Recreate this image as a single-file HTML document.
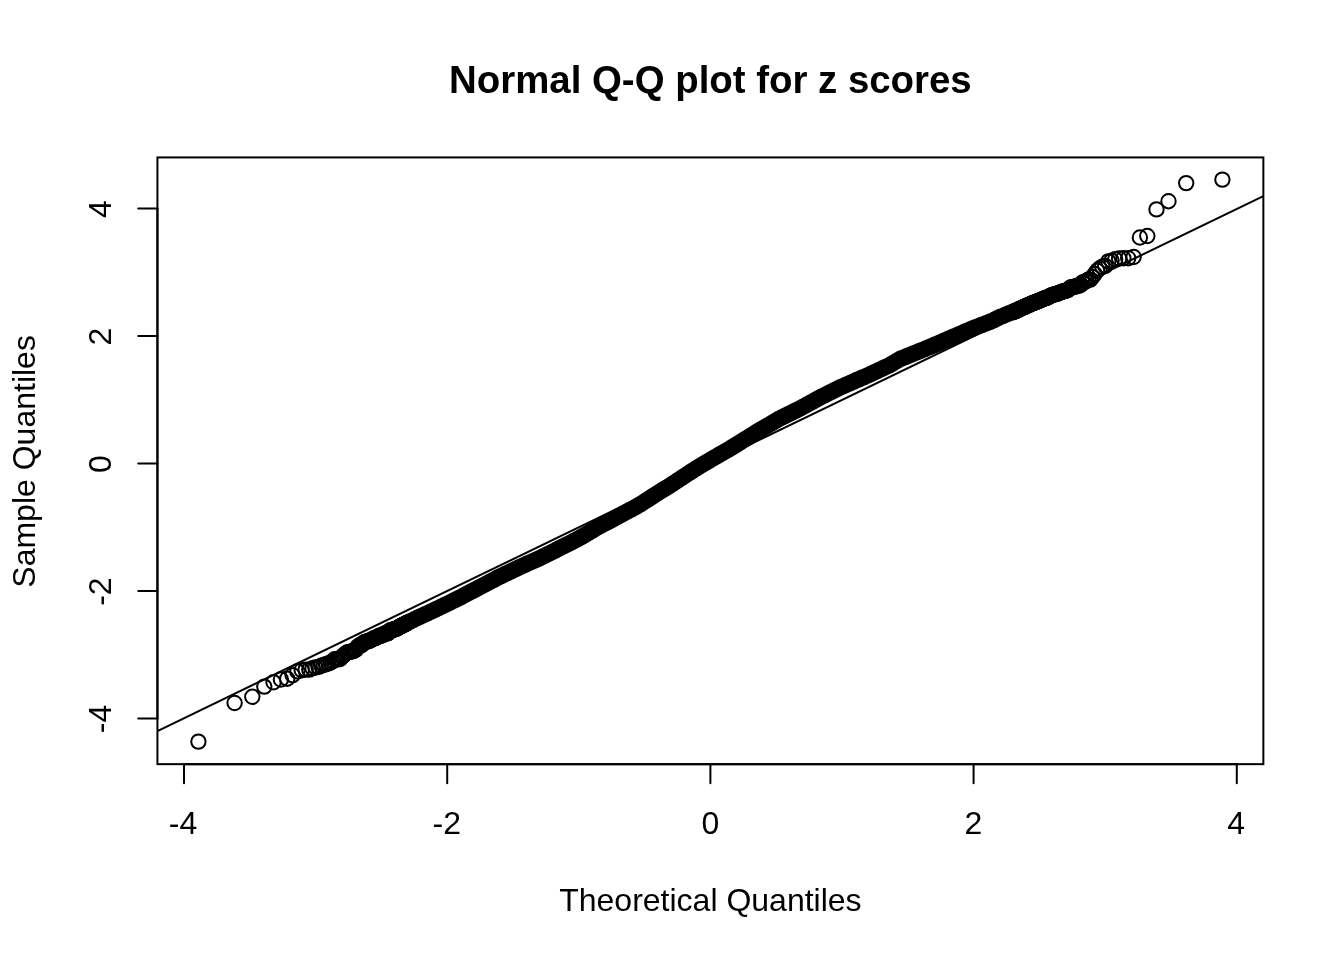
<!DOCTYPE html>
<html><head><meta charset="utf-8"><title>Normal Q-Q plot for z scores</title>
<style>html,body{margin:0;padding:0;background:#fff;}svg{display:block;filter:grayscale(1);}</style>
</head><body>
<svg width="1344" height="960" viewBox="0 0 1344 960"><rect width="1344" height="960" fill="#fff"/><defs><clipPath id="pr"><rect x="157.44" y="157.44" width="1105.92" height="606.72"/></clipPath></defs><g clip-path="url(#pr)"><path d="M401.5 625.8 L403.0 625.1 L405.0 624.1 L406.9 623.1 L408.8 622.1 L410.6 621.2 L412.3 620.4 L414.0 619.5 L415.6 618.7 L417.2 618.0 L418.8 617.2 L420.3 616.5 L422.2 615.6 L423.9 614.8 L425.7 614.0 L427.4 613.3 L429.0 612.5 L430.6 611.8 L432.2 611.1 L433.7 610.3 L435.5 609.5 L437.2 608.6 L438.9 607.8 L440.5 607.0 L442.1 606.3 L443.7 605.5 L445.2 604.7 L447.0 603.9 L448.7 603.1 L450.3 602.3 L451.9 601.5 L453.5 600.7 L455.0 599.9 L456.5 599.2 L458.2 598.4 L459.8 597.6 L461.4 596.8 L463.0 595.9 L464.5 595.1 L466.2 594.2 L467.8 593.4 L469.4 592.5 L471.0 591.7 L472.6 590.9 L474.1 590.1 L475.7 589.3 L477.3 588.4 L478.9 587.6 L480.4 586.8 L481.9 586.0 L483.5 585.2 L485.1 584.3 L486.7 583.5 L488.2 582.7 L489.8 581.8 L491.4 581.0 L493.0 580.2 L494.5 579.4 L496.0 578.6 L497.6 577.7 L499.2 576.9 L500.7 576.2 L502.2 575.4 L503.8 574.7 L505.4 573.9 L506.9 573.2 L508.5 572.5 L510.1 571.7 L511.6 571.0 L513.1 570.3 L514.7 569.5 L516.2 568.8 L517.8 568.0 L519.3 567.3 L520.8 566.6 L522.4 565.9 L523.9 565.2 L525.5 564.5 L527.0 563.8 L528.6 563.1 L530.1 562.4 L531.6 561.8 L533.2 561.1 L534.7 560.4 L536.2 559.7 L537.8 559.0 L539.4 558.3 L540.9 557.6 L542.4 556.8 L543.9 556.0 L545.5 555.3 L547.0 554.5 L548.5 553.7 L550.1 553.0 L551.6 552.2 L553.1 551.4 L554.7 550.7 L556.2 549.9 L557.8 549.1 L559.3 548.3 L560.8 547.6 L562.3 546.8 L563.9 546.1 L565.4 545.3 L566.9 544.6 L568.4 543.8 L570.0 543.0 L571.5 542.2 L573.0 541.4 L574.5 540.6 L576.1 539.9 L577.6 539.0 L579.1 538.3 L580.6 537.4 L582.2 536.5 L583.7 535.6 L585.2 534.7 L586.8 533.8 L588.3 532.9 L589.8 532.0 L591.4 531.0 L592.9 530.1 L594.4 529.2 L595.9 528.3 L597.4 527.4 L599.0 526.5 L600.5 525.7 L602.0 524.9 L603.5 524.1 L605.0 523.4 L606.6 522.6 L608.1 521.9 L609.6 521.1 L611.1 520.3 L612.7 519.4 L614.2 518.6 L615.7 517.8 L617.2 516.9 L618.7 516.1 L620.2 515.3 L621.8 514.4 L623.3 513.6 L624.8 512.7 L626.3 511.9 L627.9 511.1 L629.4 510.2 L630.9 509.6 L632.4 508.7 L634.0 507.9 L635.5 507.0 L637.0 506.2 L638.5 505.3 L640.0 504.5 L641.6 503.5 L643.1 502.5 L644.6 501.5 L646.1 500.5 L647.7 499.6 L649.2 498.6 L650.7 497.6 L652.2 496.6 L653.7 495.6 L655.2 494.7 L656.7 493.7 L658.3 492.7 L659.8 491.7 L661.3 490.8 L662.8 489.9 L664.3 489.0 L665.8 488.1 L667.4 487.2 L668.9 486.3 L670.4 485.3 L671.9 484.3 L673.5 483.3 L675.0 482.3 L676.5 481.3 L678.0 480.2 L679.5 479.2 L681.0 478.2 L682.6 477.2 L684.1 476.3 L685.6 475.3 L687.1 474.3 L688.6 473.3 L690.1 472.4 L691.6 471.4 L693.1 470.4 L694.7 469.4 L696.2 468.4 L697.7 467.5 L699.3 466.5 L700.8 465.5 L702.3 464.7 L703.8 463.8 L705.3 462.9 L706.9 462.0 L708.4 461.1 L709.9 460.2 L711.4 459.3 L712.9 458.4 L714.4 457.6 L716.0 456.7 L717.5 455.8 L719.0 454.9 L720.5 454.0 L722.0 453.1 L723.6 452.3 L725.1 451.4 L726.6 450.5 L728.2 449.7 L729.7 448.8 L731.2 447.9 L732.7 446.9 L734.2 446.0 L735.7 445.1 L737.2 444.1 L738.7 443.2 L740.3 442.2 L741.8 441.3 L743.3 440.3 L744.8 439.4 L746.4 438.5 L747.9 437.5 L749.4 436.6 L750.9 435.6 L752.4 434.7 L753.9 433.8 L755.5 432.8 L757.0 431.9 L758.5 430.9 L760.0 430.0 L761.5 429.1 L763.0 428.2 L764.6 427.3 L766.1 426.5 L767.6 425.6 L769.1 424.7 L770.6 423.8 L772.2 422.9 L773.7 422.0 L775.2 421.1 L776.7 420.2 L778.2 419.3 L779.7 418.5 L781.3 417.7 L782.8 416.9 L784.3 416.2 L785.8 415.5 L787.3 414.7 L788.8 414.0 L790.3 413.2 L791.9 412.5 L793.4 411.7 L794.9 411.0 L796.4 410.3 L797.9 409.5 L799.5 408.8 L801.0 407.9 L802.5 407.1 L804.0 406.3 L805.6 405.4 L807.1 404.6 L808.6 403.8 L810.1 402.9 L811.6 402.1 L813.2 401.3 L814.7 400.4 L816.2 399.6 L817.7 398.7 L819.3 397.9 L820.8 397.1 L822.3 396.3 L823.8 395.6 L825.4 394.8 L826.9 394.1 L828.4 393.3 L829.9 392.5 L831.4 391.8 L833.0 391.0 L834.5 390.3 L836.0 389.5 L837.5 388.7 L839.0 388.0 L840.6 387.2 L842.1 386.6 L843.6 385.9 L845.2 385.2 L846.7 384.5 L848.2 383.9 L849.8 383.2 L851.3 382.5 L852.8 381.9 L854.4 381.2 L855.9 380.5 L857.4 379.8 L859.0 379.2 L860.5 378.5 L862.0 377.8 L863.6 377.2 L865.1 376.5 L866.6 375.9 L868.1 375.2 L869.7 374.5 L871.2 373.8 L872.8 373.1 L874.3 372.3 L875.8 371.6 L877.4 370.9 L878.9 370.1 L880.4 369.4 L882.0 368.7 L883.5 368.0 L885.0 367.3 L886.6 366.6 L888.1 365.9 L889.7 365.1 L891.2 364.3 L892.7 363.4 L894.3 362.4 L895.8 361.5 L897.3 360.6 L898.9 359.7 L900.4 358.8 L902.0 358.2 L903.5 357.6 L905.1 357.0 L906.6 356.3 L908.2 355.7 L909.7 355.1 L911.3 354.5 L912.9 353.8 L914.4 353.2 L915.9 352.6 L917.5 352.0 L919.1 351.3 L920.7 350.7 L922.2 350.1 L923.8 349.4 L925.4 348.7 L926.9 348.1 L928.5 347.4 L930.0 346.8 L931.7 346.1 L933.2 345.5 L934.7 344.8 L936.3 344.2 L937.9 343.5 L939.5 342.8 L941.0 342.1 L942.6 341.4 L944.1 340.7 L945.8 340.0 L947.4 339.3 L948.9 338.6 L950.5 337.9 L952.1 337.2 L953.7 336.6 L955.3 335.9 L956.9 335.2 L958.4 334.6 L960.0 333.9 L961.6 333.2 L963.2 332.5 L964.9 331.7 L966.4 331.1 L968.0 330.4 L969.6 329.7 L971.2 329.0 L972.9 328.4 L974.6 327.7 L976.1 327.1 L977.6 326.5 L979.2 325.9 L980.8 325.3 L982.5 324.7 L984.2 324.0 L985.9 323.3 L987.7 322.7 L989.2 322.1 L990.8 321.5 L992.4 320.8 L994.1 320.0 L995.8 319.1 L997.6 318.2 L999.4 317.3 L1001.2 316.5 L1002.8 316.0 L1004.4 315.3 L1006.0 314.6 L1007.6 313.9 L1009.4 313.2 L1011.1 312.7 L1013.0 312.0 L1014.8 311.3 L1016.8 310.5 L1018.3 309.7 L1019.3 309.2" fill="none" stroke="#000" stroke-width="16.4" stroke-linecap="round" stroke-linejoin="round"/><g fill="none" stroke="#000" stroke-width="2"><circle cx="198.4" cy="741.6" r="7.2"/><circle cx="234.6" cy="703.0" r="7.2"/><circle cx="252.3" cy="696.8" r="7.2"/><circle cx="264.3" cy="686.6" r="7.2"/><circle cx="273.5" cy="682.3" r="7.2"/><circle cx="280.9" cy="679.5" r="7.2"/><circle cx="287.2" cy="678.7" r="7.2"/><circle cx="292.6" cy="675.2" r="7.2"/><circle cx="297.4" cy="671.4" r="7.2"/><circle cx="301.7" cy="670.2" r="7.2"/><circle cx="305.6" cy="669.6" r="7.2"/><circle cx="309.2" cy="669.6" r="7.2"/><circle cx="312.5" cy="668.3" r="7.2"/><circle cx="315.6" cy="667.5" r="7.2"/><circle cx="318.5" cy="666.9" r="7.2"/><circle cx="321.2" cy="665.7" r="7.2"/><circle cx="323.7" cy="664.9" r="7.2"/><circle cx="326.1" cy="664.1" r="7.2"/><circle cx="328.4" cy="663.4" r="7.2"/><circle cx="330.6" cy="662.5" r="7.2"/><circle cx="332.7" cy="661.2" r="7.2"/><circle cx="334.7" cy="659.2" r="7.2"/><circle cx="336.6" cy="659.2" r="7.2"/><circle cx="338.4" cy="659.2" r="7.2"/><circle cx="340.1" cy="659.0" r="7.2"/><circle cx="341.8" cy="656.9" r="7.2"/><circle cx="343.5" cy="655.4" r="7.2"/><circle cx="345.1" cy="654.0" r="7.2"/><circle cx="346.6" cy="652.7" r="7.2"/><circle cx="348.1" cy="652.2" r="7.2"/><circle cx="349.5" cy="651.9" r="7.2"/><circle cx="350.9" cy="651.6" r="7.2"/><circle cx="352.3" cy="651.1" r="7.2"/><circle cx="353.6" cy="651.0" r="7.2"/><circle cx="354.9" cy="650.3" r="7.2"/><circle cx="356.1" cy="649.4" r="7.2"/><circle cx="357.3" cy="647.0" r="7.2"/><circle cx="358.5" cy="646.1" r="7.2"/><circle cx="359.7" cy="645.3" r="7.2"/><circle cx="360.8" cy="645.3" r="7.2"/><circle cx="361.9" cy="645.0" r="7.2"/><circle cx="363.0" cy="643.1" r="7.2"/><circle cx="364.1" cy="642.5" r="7.2"/><circle cx="365.1" cy="642.0" r="7.2"/><circle cx="366.2" cy="641.7" r="7.2"/><circle cx="367.2" cy="641.5" r="7.2"/><circle cx="368.1" cy="641.3" r="7.2"/><circle cx="369.1" cy="640.9" r="7.2"/><circle cx="370.0" cy="640.5" r="7.2"/><circle cx="371.0" cy="640.0" r="7.2"/><circle cx="371.9" cy="639.5" r="7.2"/><circle cx="372.8" cy="639.0" r="7.2"/><circle cx="373.7" cy="638.5" r="7.2"/><circle cx="374.5" cy="638.3" r="7.2"/><circle cx="375.4" cy="638.0" r="7.2"/><circle cx="376.2" cy="637.8" r="7.2"/><circle cx="377.0" cy="637.3" r="7.2"/><circle cx="377.8" cy="636.8" r="7.2"/><circle cx="378.6" cy="636.2" r="7.2"/><circle cx="379.4" cy="635.8" r="7.2"/><circle cx="380.2" cy="635.7" r="7.2"/><circle cx="381.0" cy="635.6" r="7.2"/><circle cx="381.7" cy="635.5" r="7.2"/><circle cx="382.5" cy="635.1" r="7.2"/><circle cx="383.2" cy="634.6" r="7.2"/><circle cx="383.9" cy="634.1" r="7.2"/><circle cx="384.6" cy="633.7" r="7.2"/><circle cx="385.3" cy="633.5" r="7.2"/><circle cx="386.0" cy="633.4" r="7.2"/><circle cx="386.7" cy="633.4" r="7.2"/><circle cx="387.4" cy="633.4" r="7.2"/><circle cx="388.0" cy="633.1" r="7.2"/><circle cx="388.7" cy="632.1" r="7.2"/><circle cx="389.3" cy="631.1" r="7.2"/><circle cx="390.0" cy="630.5" r="7.2"/><circle cx="390.6" cy="630.5" r="7.2"/><circle cx="391.3" cy="630.5" r="7.2"/><circle cx="391.9" cy="630.4" r="7.2"/><circle cx="392.5" cy="630.1" r="7.2"/><circle cx="393.1" cy="629.8" r="7.2"/><circle cx="393.7" cy="629.5" r="7.2"/><circle cx="394.3" cy="629.3" r="7.2"/><circle cx="394.9" cy="629.2" r="7.2"/><circle cx="395.5" cy="629.0" r="7.2"/><circle cx="396.0" cy="628.8" r="7.2"/><circle cx="396.6" cy="628.6" r="7.2"/><circle cx="397.2" cy="628.3" r="7.2"/><circle cx="397.7" cy="628.1" r="7.2"/><circle cx="398.3" cy="627.6" r="7.2"/><circle cx="398.8" cy="627.3" r="7.2"/><circle cx="399.4" cy="627.0" r="7.2"/><circle cx="399.9" cy="626.7" r="7.2"/><circle cx="400.4" cy="626.4" r="7.2"/><circle cx="401.0" cy="626.1" r="7.2"/><circle cx="401.5" cy="625.8" r="7.2"/><circle cx="402.0" cy="625.6" r="7.2"/><circle cx="402.5" cy="625.3" r="7.2"/><circle cx="403.0" cy="625.1" r="7.2"/><circle cx="403.5" cy="624.8" r="7.2"/><circle cx="404.0" cy="624.6" r="7.2"/><circle cx="404.5" cy="624.3" r="7.2"/><circle cx="405.0" cy="624.1" r="7.2"/><circle cx="405.5" cy="623.8" r="7.2"/><circle cx="406.0" cy="623.6" r="7.2"/><circle cx="406.4" cy="623.3" r="7.2"/><circle cx="406.9" cy="623.1" r="7.2"/><circle cx="407.4" cy="622.8" r="7.2"/><circle cx="1013.4" cy="311.8" r="7.2"/><circle cx="1013.9" cy="311.6" r="7.2"/><circle cx="1014.4" cy="311.4" r="7.2"/><circle cx="1014.8" cy="311.3" r="7.2"/><circle cx="1015.3" cy="311.1" r="7.2"/><circle cx="1015.8" cy="310.9" r="7.2"/><circle cx="1016.3" cy="310.7" r="7.2"/><circle cx="1016.8" cy="310.5" r="7.2"/><circle cx="1017.3" cy="310.2" r="7.2"/><circle cx="1017.8" cy="309.9" r="7.2"/><circle cx="1018.3" cy="309.7" r="7.2"/><circle cx="1018.8" cy="309.4" r="7.2"/><circle cx="1019.3" cy="309.2" r="7.2"/><circle cx="1019.8" cy="308.9" r="7.2"/><circle cx="1020.4" cy="308.6" r="7.2"/><circle cx="1020.9" cy="308.4" r="7.2"/><circle cx="1021.4" cy="308.2" r="7.2"/><circle cx="1022.0" cy="308.0" r="7.2"/><circle cx="1022.5" cy="307.8" r="7.2"/><circle cx="1023.1" cy="307.5" r="7.2"/><circle cx="1023.6" cy="307.3" r="7.2"/><circle cx="1024.2" cy="307.1" r="7.2"/><circle cx="1024.8" cy="306.8" r="7.2"/><circle cx="1025.3" cy="306.6" r="7.2"/><circle cx="1025.9" cy="306.3" r="7.2"/><circle cx="1026.5" cy="306.0" r="7.2"/><circle cx="1027.1" cy="305.8" r="7.2"/><circle cx="1027.7" cy="305.5" r="7.2"/><circle cx="1028.3" cy="305.2" r="7.2"/><circle cx="1028.9" cy="304.9" r="7.2"/><circle cx="1029.5" cy="304.6" r="7.2"/><circle cx="1030.2" cy="304.3" r="7.2"/><circle cx="1030.8" cy="304.0" r="7.2"/><circle cx="1031.5" cy="303.7" r="7.2"/><circle cx="1032.1" cy="303.4" r="7.2"/><circle cx="1032.8" cy="303.2" r="7.2"/><circle cx="1033.4" cy="302.9" r="7.2"/><circle cx="1034.1" cy="302.7" r="7.2"/><circle cx="1034.8" cy="302.4" r="7.2"/><circle cx="1035.5" cy="302.2" r="7.2"/><circle cx="1036.2" cy="301.9" r="7.2"/><circle cx="1036.9" cy="301.6" r="7.2"/><circle cx="1037.6" cy="301.3" r="7.2"/><circle cx="1038.3" cy="301.1" r="7.2"/><circle cx="1039.1" cy="300.8" r="7.2"/><circle cx="1039.8" cy="300.5" r="7.2"/><circle cx="1040.6" cy="300.1" r="7.2"/><circle cx="1041.4" cy="299.8" r="7.2"/><circle cx="1042.2" cy="299.5" r="7.2"/><circle cx="1043.0" cy="299.1" r="7.2"/><circle cx="1043.8" cy="298.8" r="7.2"/><circle cx="1044.6" cy="298.5" r="7.2"/><circle cx="1045.4" cy="298.2" r="7.2"/><circle cx="1046.3" cy="297.9" r="7.2"/><circle cx="1047.1" cy="297.6" r="7.2"/><circle cx="1048.0" cy="297.2" r="7.2"/><circle cx="1048.9" cy="296.6" r="7.2"/><circle cx="1049.8" cy="296.1" r="7.2"/><circle cx="1050.8" cy="295.6" r="7.2"/><circle cx="1051.7" cy="295.3" r="7.2"/><circle cx="1052.7" cy="295.1" r="7.2"/><circle cx="1053.6" cy="294.8" r="7.2"/><circle cx="1054.6" cy="294.2" r="7.2"/><circle cx="1055.7" cy="293.9" r="7.2"/><circle cx="1056.7" cy="293.8" r="7.2"/><circle cx="1057.8" cy="293.6" r="7.2"/><circle cx="1058.9" cy="293.0" r="7.2"/><circle cx="1060.0" cy="292.5" r="7.2"/><circle cx="1061.1" cy="292.2" r="7.2"/><circle cx="1062.3" cy="291.8" r="7.2"/><circle cx="1063.5" cy="291.3" r="7.2"/><circle cx="1064.7" cy="291.1" r="7.2"/><circle cx="1065.9" cy="290.7" r="7.2"/><circle cx="1067.2" cy="290.3" r="7.2"/><circle cx="1068.5" cy="289.7" r="7.2"/><circle cx="1069.9" cy="288.0" r="7.2"/><circle cx="1071.3" cy="287.1" r="7.2"/><circle cx="1072.7" cy="286.9" r="7.2"/><circle cx="1074.2" cy="286.9" r="7.2"/><circle cx="1075.7" cy="286.5" r="7.2"/><circle cx="1077.3" cy="285.7" r="7.2"/><circle cx="1079.0" cy="285.7" r="7.2"/><circle cx="1080.7" cy="284.9" r="7.2"/><circle cx="1082.4" cy="282.5" r="7.2"/><circle cx="1084.2" cy="282.2" r="7.2"/><circle cx="1086.1" cy="281.1" r="7.2"/><circle cx="1088.1" cy="279.8" r="7.2"/><circle cx="1090.2" cy="279.6" r="7.2"/><circle cx="1092.4" cy="277.0" r="7.2"/><circle cx="1094.7" cy="274.0" r="7.2"/><circle cx="1097.1" cy="270.7" r="7.2"/><circle cx="1099.6" cy="268.5" r="7.2"/><circle cx="1102.3" cy="266.8" r="7.2"/><circle cx="1105.2" cy="265.9" r="7.2"/><circle cx="1108.3" cy="261.4" r="7.2"/><circle cx="1111.6" cy="260.6" r="7.2"/><circle cx="1115.2" cy="259.3" r="7.2"/><circle cx="1119.1" cy="258.5" r="7.2"/><circle cx="1123.4" cy="258.3" r="7.2"/><circle cx="1128.2" cy="258.2" r="7.2"/><circle cx="1133.6" cy="257.0" r="7.2"/><circle cx="1139.9" cy="237.5" r="7.2"/><circle cx="1147.3" cy="236.0" r="7.2"/><circle cx="1156.5" cy="209.4" r="7.2"/><circle cx="1168.5" cy="201.2" r="7.2"/><circle cx="1186.2" cy="183.1" r="7.2"/><circle cx="1222.4" cy="179.6" r="7.2"/></g><line x1="157.44" y1="731.15" x2="1263.36" y2="196.10" stroke="#000" stroke-width="2"/></g><rect x="157.44" y="157.44" width="1105.92" height="606.72" fill="none" stroke="#000" stroke-width="2"/><g stroke="#000" stroke-width="2" stroke-linecap="round"><line x1="184.01" y1="764.16" x2="1236.79" y2="764.16"/><line x1="184.01" y1="764.16" x2="184.01" y2="783.36"/><line x1="447.21" y1="764.16" x2="447.21" y2="783.36"/><line x1="710.40" y1="764.16" x2="710.40" y2="783.36"/><line x1="973.59" y1="764.16" x2="973.59" y2="783.36"/><line x1="1236.79" y1="764.16" x2="1236.79" y2="783.36"/><line x1="157.44" y1="718.46" x2="157.44" y2="208.54"/><line x1="157.44" y1="718.46" x2="138.24" y2="718.46"/><line x1="157.44" y1="590.98" x2="138.24" y2="590.98"/><line x1="157.44" y1="463.50" x2="138.24" y2="463.50"/><line x1="157.44" y1="336.02" x2="138.24" y2="336.02"/><line x1="157.44" y1="208.54" x2="138.24" y2="208.54"/></g><g font-family='"Liberation Sans", Arial, Helvetica, sans-serif' font-size="32" fill="#000" text-anchor="middle"><text x="183.01" y="833.9">-4</text><text x="446.71" y="833.9">-2</text><text x="710.40" y="833.9">0</text><text x="973.29" y="833.9">2</text><text x="1236.09" y="833.9">4</text><text transform="translate(110.7 719.06) rotate(-90)">-4</text><text transform="translate(110.7 591.58) rotate(-90)">-2</text><text transform="translate(110.7 464.10) rotate(-90)">0</text><text transform="translate(110.7 336.62) rotate(-90)">2</text><text transform="translate(110.7 209.14) rotate(-90)">4</text><text x="710.4" y="911">Theoretical Quantiles</text><text transform="translate(34.6 461.4) rotate(-90)">Sample Quantiles</text><text x="710.4" y="93.3" font-size="38.4" font-weight="bold">Normal Q-Q plot for z scores</text></g></svg>
</body></html>
